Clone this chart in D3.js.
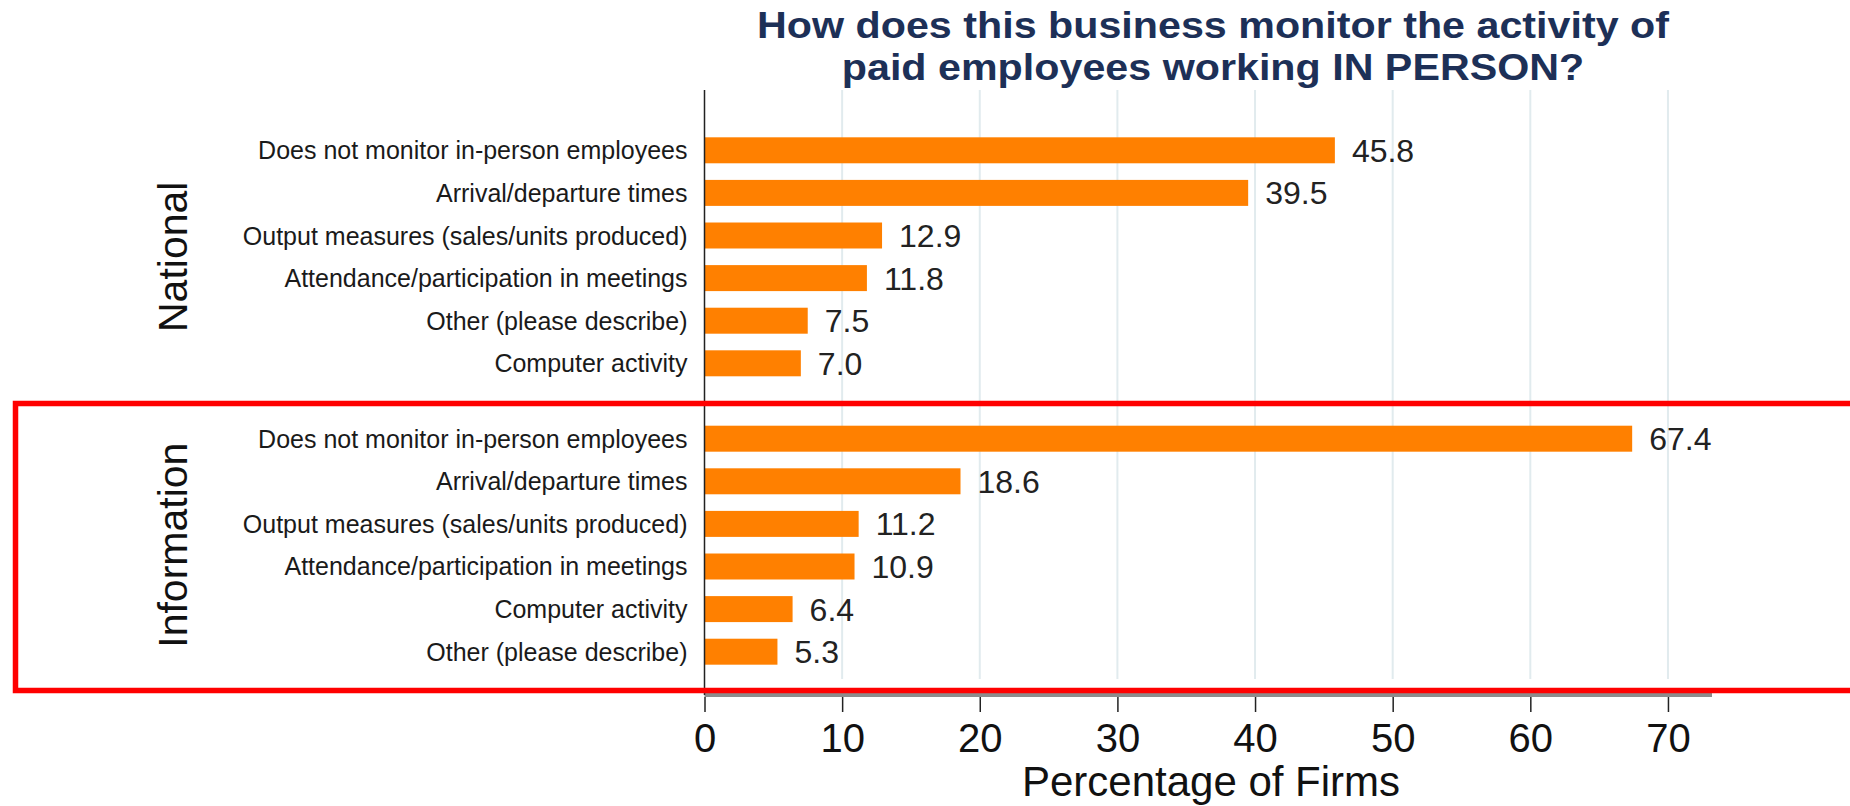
<!DOCTYPE html>
<html>
<head>
<meta charset="utf-8">
<script src="https://cdn.jsdelivr.net/npm/d3@7"></script>
<style>
  html, body { margin: 0; padding: 0; background: #fff; }
  svg { display: block; }
  text { font-family: "Liberation Sans", Arial, sans-serif; }
</style>
</head>
<body>
<svg id="chart" width="1850" height="806"></svg>
<script>
// Survey results: how businesses monitor in-person employees
const groups = ["National", "Information"];

const nationalCategories = [
  "Does not monitor in-person employees",
  "Arrival/departure times",
  "Output measures (sales/units produced)",
  "Attendance/participation in meetings",
  "Other (please describe)",
  "Computer activity"
];
const nationalValues = [45.8, 39.5, 12.9, 11.8, 7.5, 7.0];

const informationCategories = [
  "Does not monitor in-person employees",
  "Arrival/departure times",
  "Output measures (sales/units produced)",
  "Attendance/participation in meetings",
  "Computer activity",
  "Other (please describe)"
];
const informationValues = [67.4, 18.6, 11.2, 10.9, 6.4, 5.3];

const xTicks = [0, 10, 20, 30, 40, 50, 60, 70];
const titleLines = [
  "How does this business monitor the activity of",
  "paid employees working IN PERSON?"
];
const xAxisTitle = "Percentage of Firms";

const panels = [
  { group: groups[0], categories: nationalCategories, values: nationalValues },
  { group: groups[1], categories: informationCategories, values: informationValues }
];

const svg = d3.select("#chart");
const barColor = "#ff8000";
const plotTop = 90, plotBottom = 695;

const x = d3.scaleLinear().domain([0, 73.2]).range([704.5, 1712]);

const yGroup = d3.scaleBand()
  .domain(groups)
  .range([129, 673])
  .paddingInner(0.1137);

// vertical gridlines
svg.append("g")
  .selectAll("line")
  .data(xTicks.filter(d => d > 0))
  .join("line")
  .attr("x1", d => x(d)).attr("x2", d => x(d))
  .attr("y1", plotTop).attr("y2", 679)
  .attr("stroke", "#e1ebee")
  .attr("stroke-width", 2);

// title, set in a slightly widened bold face
svg.append("g")
  .selectAll("text")
  .data(titleLines)
  .join("text")
  .attr("transform", (d, i) => `translate(1213,${38 + i * 42}) scale(1.13,1)`)
  .attr("text-anchor", "middle")
  .attr("font-size", 36.5)
  .attr("font-weight", "bold")
  .attr("fill", "#1d3057")
  .text(d => d);

panels.forEach(p => {
  const y0 = yGroup(p.group);
  const y = d3.scaleBand()
    .domain(p.categories)
    .range([y0, y0 + yGroup.bandwidth()])
    .paddingInner(0.39)
    .paddingOuter(0.195);

  const rows = p.categories.map((c, i) => ({ c, v: p.values[i] }));
  const g = svg.append("g");

  g.selectAll("rect")
    .data(rows)
    .join("rect")
    .attr("x", x(0))
    .attr("y", d => y(d.c))
    .attr("width", d => x(d.v) - x(0))
    .attr("height", y.bandwidth())
    .attr("fill", barColor);

  g.selectAll("text.value")
    .data(rows)
    .join("text")
    .attr("class", "value")
    .attr("x", d => x(d.v) + 17)
    .attr("y", d => y(d.c) + y.bandwidth() / 2)
    .attr("dy", "0.36em")
    .attr("font-size", 32)
    .attr("fill", "#222")
    .text(d => d.v.toFixed(1));

  g.selectAll("text.cat")
    .data(rows)
    .join("text")
    .attr("class", "cat")
    .attr("x", x(0) - 17)
    .attr("y", d => y(d.c) + y.bandwidth() / 2)
    .attr("dy", "0.36em")
    .attr("text-anchor", "end")
    .attr("font-size", 25)
    .attr("fill", "#1a1a1a")
    .text(d => d.c);

  g.append("text")
    .attr("transform", `translate(187,${y0 + yGroup.bandwidth() / 2}) rotate(-90)`)
    .attr("text-anchor", "middle")
    .attr("font-size", 41)
    .attr("fill", "#111")
    .text(p.group);
});

// y axis line
svg.append("line")
  .attr("x1", x(0)).attr("x2", x(0))
  .attr("y1", plotTop).attr("y2", plotBottom)
  .attr("stroke", "#222")
  .attr("stroke-width", 1.5);

// highlight box around the Information panel
svg.append("rect")
  .attr("x", 15.5).attr("y", 403.5)
  .attr("width", 1860).attr("height", 287)
  .attr("fill", "none")
  .attr("stroke", "#ff0000")
  .attr("stroke-width", 5.5);

// x axis
const xAxis = d3.axisBottom(x)
  .tickValues(xTicks)
  .tickSize(15)
  .tickPadding(12)
  .tickSizeOuter(0);

const ax = svg.append("g")
  .attr("transform", `translate(0,${plotBottom + 2})`)
  .call(xAxis);
ax.select(".domain").remove();
ax.selectAll(".tick line").attr("stroke", "#222").attr("stroke-width", 1.5);
ax.selectAll(".tick text")
  .attr("font-size", 40)
  .attr("font-family", "'Liberation Sans', Arial, sans-serif")
  .attr("fill", "#111");

svg.insert("line", "g")
  .attr("x1", x(0)).attr("x2", x(73.2))
  .attr("y1", 695).attr("y2", 695)
  .attr("stroke", "#8c8c8c")
  .attr("stroke-width", 4);

svg.append("text")
  .attr("x", 1211)
  .attr("y", 796)
  .attr("text-anchor", "middle")
  .attr("font-size", 42)
  .attr("fill", "#111")
  .text(xAxisTitle);
</script>
</body>
</html>
